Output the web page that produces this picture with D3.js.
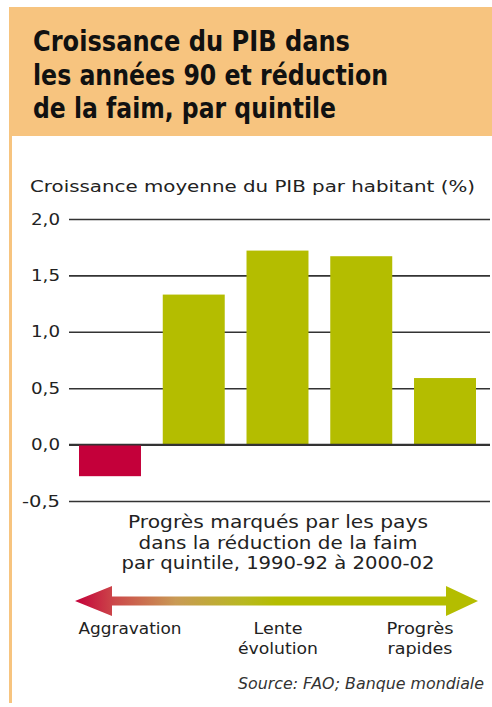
<!DOCTYPE html>
<html>
<head>
<meta charset="utf-8">
<script src="https://cdn.jsdelivr.net/npm/d3@7.9.0/dist/d3.min.js"></script>
<style>
  body { margin: 0; background: #fff; }
  svg { display: block; }
</style>
</head>
<body>
<svg width="492" height="707"></svg>
<script>
// data
const quintiles = ["Q1", "Q2", "Q3", "Q4", "Q5"];
const growth = [-0.28, 1.33, 1.72, 1.67, 0.59];
const yTicks = [-0.5, 0, 0.5, 1, 1.5, 2];
const titleLines = ["Croissance du PIB dans", "les années 90 et réduction", "de la faim, par quintile"];
const xTitleLines = ["Progrès marqués par les pays", "dans la réduction de la faim", "par quintile, 1990-92 à 2000-02"];

const red = "#c4003a", green = "#b4bd00", orange = "#f7c47f";
const font = "'DejaVu Sans Condensed', 'DejaVu Sans', sans-serif";
const bodyFont = "'DejaVu Sans', sans-serif";

const svg = d3.select("svg");

// header box + left rule
svg.append("rect").attr("x", 9).attr("y", 7).attr("width", 483).attr("height", 129).attr("fill", orange);
svg.append("rect").attr("x", 9).attr("y", 136).attr("width", 3).attr("height", 567).attr("fill", orange);

const titleW = [317, 355, 303];
titleLines.forEach((t, i) => {
  svg.append("text")
    .attr("x", 33).attr("y", 51 + i * 33.5)
    .attr("font-family", font).attr("font-weight", "bold").attr("font-size", 29)
    .attr("fill", "#111")
    .attr("textLength", titleW[i]).attr("lengthAdjust", "spacingAndGlyphs")
    .text(t);
});

svg.append("text")
  .attr("x", 30).attr("y", 192)
  .attr("font-family", font).attr("font-size", 15.5).attr("fill", "#222")
  .attr("textLength", 445).attr("lengthAdjust", "spacingAndGlyphs")
  .text("Croissance moyenne du PIB par habitant (%)");

const y = d3.scaleLinear().domain([-0.5, 2]).range([501, 219]);
const x = d3.scaleBand().domain(quintiles).range([79, 476]).paddingInner(0.26).paddingOuter(0);

const fmt = d => d3.format(".1f")(d).replace(".", ",").replace("−", "-");

// grid + tick labels
const yAxis = d3.axisLeft(y).tickValues(yTicks).tickSize(-421).tickFormat(fmt).tickPadding(9);
const gAxis = svg.append("g").attr("transform", "translate(69,0)").call(yAxis);
gAxis.select(".domain").remove();
gAxis.selectAll(".tick line").attr("stroke", "#333").attr("stroke-width", 1.6);
gAxis.selectAll(".tick text")
  .attr("font-family", bodyFont).attr("font-size", 16).attr("fill", "#222")
  .attr("textLength", d => d < 0 ? 38 : 29).attr("lengthAdjust", "spacingAndGlyphs");

svg.append("g").selectAll("rect")
  .data(growth)
  .join("rect")
  .attr("x", (d, i) => x(quintiles[i]))
  .attr("width", x.bandwidth())
  .attr("y", d => y(Math.max(0, d)))
  .attr("height", d => Math.abs(y(d) - y(0)))
  .attr("fill", d => d < 0 ? red : green);

// zero line on top
svg.append("line")
  .attr("x1", 69).attr("x2", 490).attr("y1", y(0)).attr("y2", y(0))
  .attr("stroke", "#333").attr("stroke-width", 1.6);

const xTitleW = [300, 279, 313];
xTitleLines.forEach((t, i) => {
  svg.append("text")
    .attr("x", 278).attr("y", 528 + i * 20.5)
    .attr("text-anchor", "middle")
    .attr("font-family", bodyFont).attr("font-size", 18).attr("fill", "#222")
    .attr("textLength", xTitleW[i]).attr("lengthAdjust", "spacingAndGlyphs")
    .text(t);
});

// gradient arrow
const defs = svg.append("defs");
const grad = defs.append("linearGradient").attr("id", "arrowGrad")
  .attr("gradientUnits", "userSpaceOnUse").attr("x1", 75).attr("x2", 478).attr("y1", 0).attr("y2", 0);
[[0, red], [0.1, "#cc4a4a"], [0.25, "#c99a55"], [0.42, "#b8b820"], [0.5, green], [1, green]].forEach(([o, c]) => {
  grad.append("stop").attr("offset", o).attr("stop-color", c);
});
const ay = 601;
svg.append("path")
  .attr("d", d3.line()([[75, ay], [112, ay - 15], [112, ay - 4.5], [446, ay - 4.5], [446, ay - 15], [478, ay],
    [446, ay + 15], [446, ay + 4.5], [112, ay + 4.5], [112, ay + 15]]) + "Z")
  .attr("fill", "url(#arrowGrad)");

const scaleLabels = [["Aggravation"], ["Lente", "évolution"], ["Progrès", "rapides"]];
const scaleW = [[103], [49, 80], [67, 65]];
const labelX = [130, 278, 420];
scaleLabels.forEach((lines, i) => {
  lines.forEach((t, j) => {
    svg.append("text")
      .attr("x", labelX[i]).attr("y", 634 + j * 20)
      .attr("text-anchor", "middle")
      .attr("font-family", bodyFont).attr("font-size", 16).attr("fill", "#222")
      .attr("textLength", scaleW[i][j]).attr("lengthAdjust", "spacingAndGlyphs")
      .text(t);
  });
});

svg.append("text")
  .attr("x", 484).attr("y", 689)
  .attr("text-anchor", "end")
  .attr("font-family", font).attr("font-style", "italic").attr("font-size", 15).attr("fill", "#333")
  .attr("textLength", 246).attr("lengthAdjust", "spacingAndGlyphs")
  .text("Source: FAO; Banque mondiale");
</script>
</body>
</html>
